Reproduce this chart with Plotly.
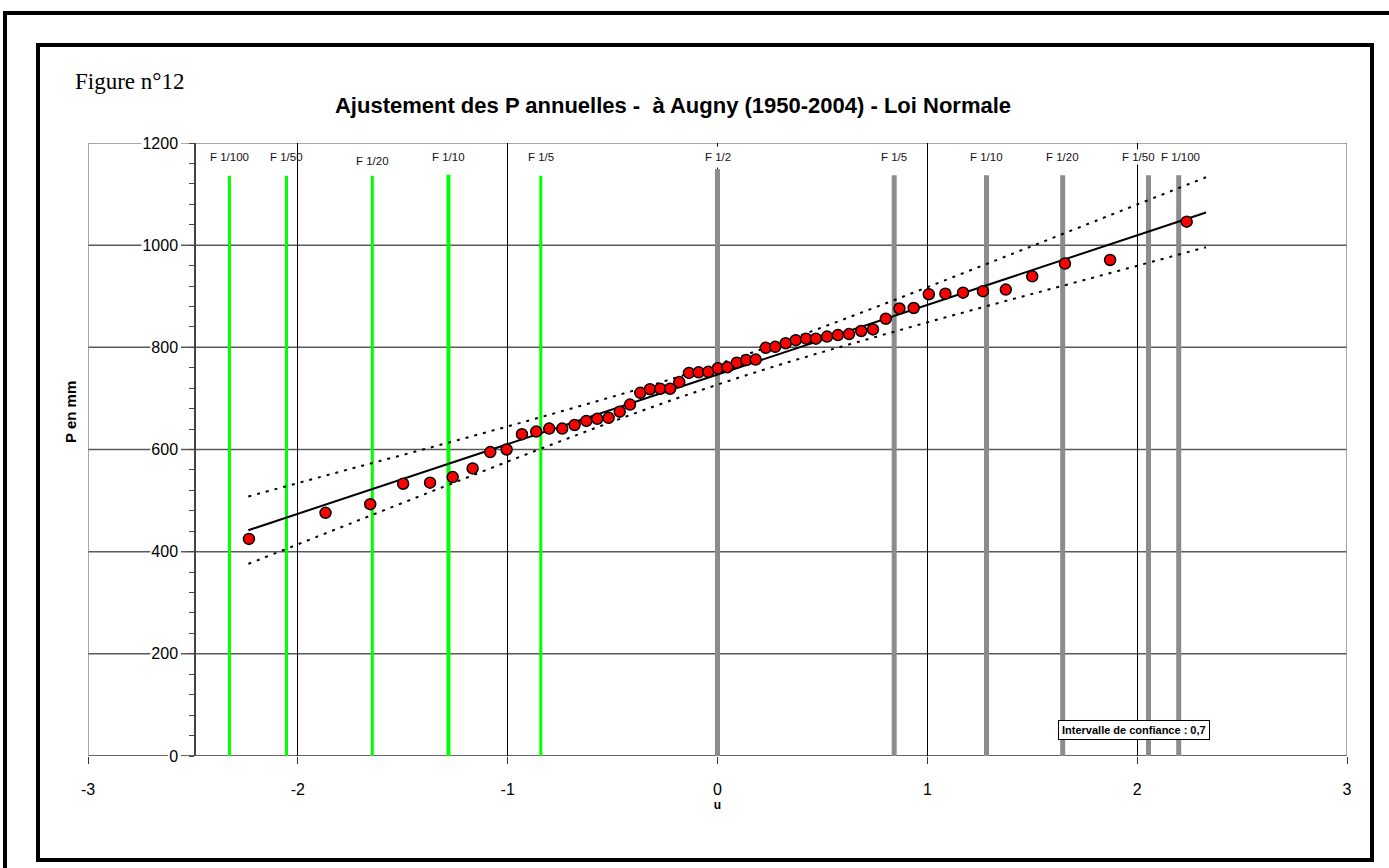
import plotly.graph_objects as go

# ---------------- data ----------------
u_obs = [-2.233, -1.868, -1.655, -1.498, -1.370, -1.262, -1.167, -1.083, -1.005, -0.932,
         -0.864, -0.802, -0.740, -0.681, -0.625, -0.573, -0.519, -0.466, -0.417, -0.368,
         -0.322, -0.273, -0.226, -0.182, -0.136, -0.090, -0.044, 0.002, 0.047, 0.092,
         0.137, 0.182, 0.230, 0.275, 0.325, 0.373, 0.422, 0.469, 0.522, 0.574,
         0.627, 0.685, 0.741, 0.802, 0.867, 0.935, 1.007, 1.086, 1.170, 1.265,
         1.374, 1.500, 1.656, 1.871, 2.236]
p_obs = [425, 476, 493, 533, 535, 546, 563, 595, 600, 630,
         635, 641, 641, 648, 656, 660, 662, 674, 688, 711,
         718, 719, 719, 732, 750, 751, 752, 759, 761, 770,
         775, 776, 799, 801, 808, 814, 817, 817, 821, 824,
         826, 832, 835, 856, 876, 877, 904, 905, 907, 910,
         913, 939, 964, 971, 1046]

fit_u = [-2.236, 2.328]
fit_p = [442, 1064]

conf_u = [-2.236, -1.75, -1.25, -0.75, -0.25, 0.25, 0.75, 1.25, 1.75, 2.328]
conf_hi = [508, 562, 617, 674, 734, 802, 878, 958, 1039, 1133]
conf_lo = [376, 455, 536, 616, 692, 760, 820, 877, 932, 996]

green_u = [-2.326, -2.054, -1.645, -1.282, -0.842]
green_top = [1136, 1136, 1136, 1138, 1136]
green_lbl = ["F 1/100", "F 1/50", "F 1/20", "F 1/10", "F 1/5"]

gray_u = [0.0, 0.842, 1.282, 1.645, 2.054, 2.198]
gray_top = [1149, 1137, 1137, 1137, 1137, 1137]
gray_lbl = ["F 1/2", "F 1/5", "F 1/10", "F 1/20", "F 1/50", "F 1/100"]

x_ticks = [-3, -2, -1, 0, 1, 2, 3]
y_ticks = [0, 200, 400, 600, 800, 1000, 1200]

title_txt = "Ajustement des P annuelles -  à Augny (1950-2004) - Loi Normale"
fig_label = "Figure n°12"
x_title = "u"
y_title = "P en mm"
ci_txt = "Intervalle de confiance : 0,7"

# ---------------- layout helpers ----------------
W, H = 1389, 868
L, R, T, B = 88, 42, 143, 112
PW, PH = W - L - R, H - T - B
XMIN, XMAX = -3, 3
YMIN, YMAX = 0, 1200
UPP = (XMAX - XMIN) / PW      # data units per pixel (x)


def pxx(p):
    return (p - L) / PW


def pxy(p):
    return (H - B - p) / PH


SANS = "Liberation Sans Narrow, Arial Narrow, Liberation Sans, Arial, sans-serif"
SERIF = "Liberation Serif, Times New Roman, serif"
TICK_SIZE = 16

fig = go.Figure()

# vertical frequency lines
for u, top in zip(green_u, green_top):
    w = 4 if abs(u + 1.282) < 0.01 else 3
    fig.add_trace(go.Scatter(x=[u, u], y=[0, top], mode="lines",
                             line=dict(color="#00FF00", width=w),
                             showlegend=False, hoverinfo="skip"))
for u, top in zip(gray_u, gray_top):
    fig.add_trace(go.Scatter(x=[u, u], y=[0, top], mode="lines",
                             line=dict(color="#8C8C8C", width=5),
                             showlegend=False, hoverinfo="skip"))

# confidence bounds
for arr in (conf_hi, conf_lo):
    fig.add_trace(go.Scatter(x=conf_u, y=arr, mode="lines",
                             line=dict(color="black", width=2, dash="3px,6px", shape="spline"),
                             showlegend=False, hoverinfo="skip"))
# fitted line
fig.add_trace(go.Scatter(x=fit_u, y=fit_p, mode="lines",
                         line=dict(color="black", width=2),
                         showlegend=False, hoverinfo="skip"))
# observations
fig.add_trace(go.Scatter(x=u_obs, y=p_obs, mode="markers",
                         marker=dict(color="#FF0000", size=11,
                                     line=dict(color="black", width=1.5)),
                         showlegend=False))

shapes = []
# horizontal grid segments, interrupted by the tick labels
AXIS_PX = 195
LAB_RIGHT_PX = 180
for v in y_ticks:
    lab = str(v)
    lab_w = len(lab) * 0.556 * TICK_SIZE + 3
    left_end = XMIN + (LAB_RIGHT_PX - lab_w - L) * UPP
    right_start = XMIN + (LAB_RIGHT_PX + 1 - L) * UPP
    if v == YMAX:
        col, lw = "#8A8A8A", 1.5
    elif v == YMIN:
        col, lw = "#333333", 1.5
    else:
        col, lw = "#5A5A5A", 1.5
    for x0, x1 in ((XMIN, left_end), (right_start, XMAX)):
        shapes.append(dict(type="line", xref="x", yref="y", x0=x0, x1=x1, y0=v, y1=v,
                           line=dict(color=col, width=lw), layer="below"))
# left / right plot border
for xv in (XMIN, XMAX):
    shapes.append(dict(type="line", xref="x", yref="y", x0=xv, x1=xv, y0=YMIN, y1=YMAX,
                       line=dict(color="#8A8A8A", width=1.5), layer="below"))
# frames
shapes.append(dict(type="rect", xref="paper", yref="paper",
                   x0=pxx(5), x1=pxx(1400), y0=pxy(880), y1=pxy(13),
                   line=dict(color="black", width=4), fillcolor="rgba(0,0,0,0)", layer="above"))
shapes.append(dict(type="rect", xref="paper", yref="paper",
                   x0=pxx(38), x1=pxx(1372), y0=pxy(860), y1=pxy(45),
                   line=dict(color="black", width=4), fillcolor="rgba(0,0,0,0)", layer="above"))

annotations = []
LBL_FONT = dict(family=SANS, size=11.5, color="#111111")
for u, lbl in zip(green_u, green_lbl):
    yv = 1165 if lbl == "F 1/20" else 1172
    annotations.append(dict(x=u, y=yv, xref="x", yref="y", text=lbl, showarrow=False,
                            font=LBL_FONT))
for u, lbl in zip(gray_u, gray_lbl):
    anch, pad = "center", 4
    if lbl == "F 1/50":
        anch, pad = "right", 1
    elif lbl == "F 1/100":
        anch, pad = "left", 1
    xs = {"center": 0, "right": 8, "left": -20}[anch]
    annotations.append(dict(x=u, y=1172, xref="x", yref="y", text=lbl, showarrow=False,
                            xanchor=anch, xshift=xs, bgcolor="white", borderpad=pad,
                            font=LBL_FONT))
annotations.append(dict(x=pxx(73), y=pxy(82), xref="paper", yref="paper", xanchor="left",
                        yanchor="middle", text=fig_label, showarrow=False,
                        font=dict(family=SERIF, size=23, color="black")))
annotations.append(dict(x=pxx(1133.5), y=pxy(730), xref="paper", yref="paper",
                        xanchor="center", yanchor="middle",
                        text="<b>" + ci_txt + "</b>", showarrow=False,
                        bgcolor="white", bordercolor="black", borderwidth=1, borderpad=3,
                        font=dict(family=SANS, size=11, color="black")))
annotations.append(dict(x=pxx(70), y=pxy(412), xref="paper", yref="paper",
                        xanchor="center", yanchor="middle", textangle=-90,
                        text="<b>" + y_title + "</b>", showarrow=False,
                        font=dict(family=SANS, size=15, color="black")))

fig.update_layout(
    width=W, height=H,
    margin=dict(l=L, r=R, t=T, b=B),
    paper_bgcolor="white", plot_bgcolor="white",
    title=dict(text=title_txt, x=pxx(673), xref="paper", xanchor="center",
               y=1 - 105 / H, yref="container", yanchor="middle",
               font=dict(family=SANS, size=22, color="black", weight="bold")),
    xaxis=dict(range=[XMIN, XMAX], tickvals=x_ticks, ticktext=[str(t) for t in x_ticks],
               showgrid=True, gridcolor="black", gridwidth=1, zeroline=False,
               showline=False, ticks="outside", ticklen=7, tickcolor="#333333",
               ticklabelstandoff=12,
               tickfont=dict(family=SANS, size=TICK_SIZE, color="black"),
               title=dict(text=x_title, standoff=0,
                          font=dict(family=SANS, size=12, color="black", weight="bold"))),
    yaxis=dict(range=[YMIN, YMAX], tickvals=y_ticks, ticktext=[str(t) for t in y_ticks],
               anchor="free", position=pxx(AXIS_PX),
               showgrid=False, zeroline=False, showline=True, linecolor="#444444", linewidth=1.5,
               ticks="outside", ticklen=5, tickcolor="#444444",
               ticklabelstandoff=8,
               minor=dict(tickvals=[v for v in range(40, 1200, 40) if v % 200], ticks="outside",
                          ticklen=5, tickcolor="#444444", showgrid=False),
               tickfont=dict(family=SANS, size=TICK_SIZE, color="black")),
    shapes=shapes,
    annotations=annotations,
)

fig.write_html("out.html",
               config={"displayModeBar": False},
               post_script="document.body.style.margin='0px';document.body.style.overflow='hidden';")
